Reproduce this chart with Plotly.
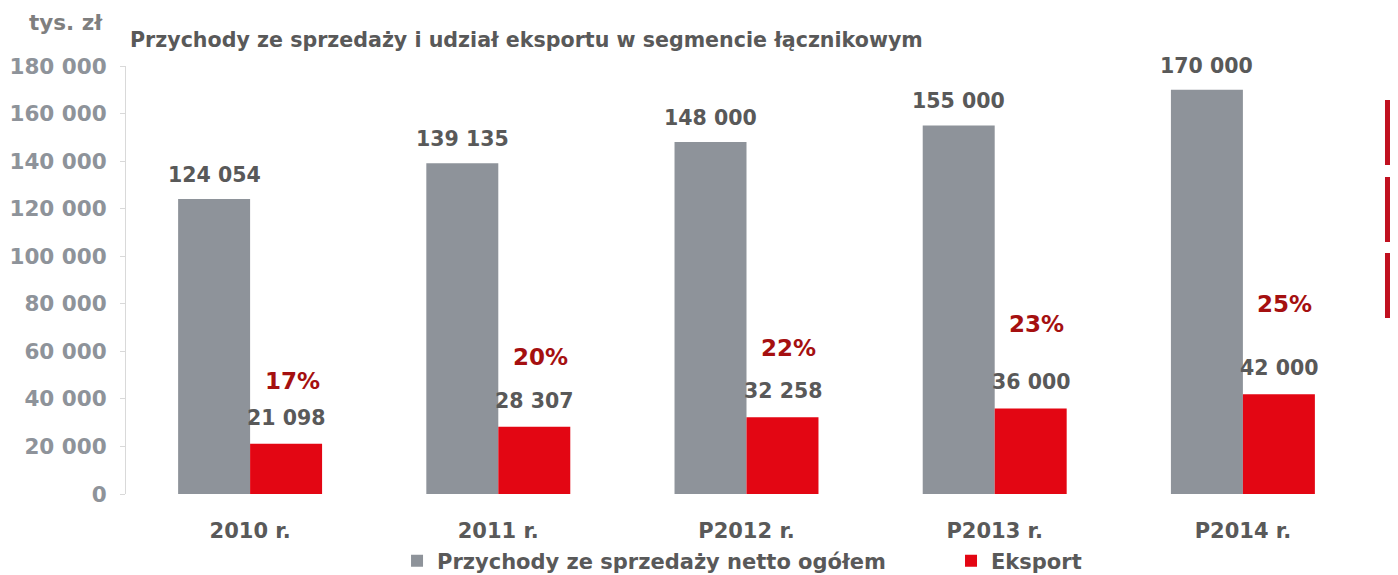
import plotly.graph_objects as go

categories = ["2010 r.", "2011 r.", "P2012 r.", "P2013 r.", "P2014 r."]
revenue = [124054, 139135, 148000, 155000, 170000]
export = [21098, 28307, 32258, 36000, 42000]
export_share = ["17%", "20%", "22%", "23%", "25%"]
# heights (in axis units) at which the share labels sit
share_label_y = [47500, 57600, 61400, 71500, 79900]

FONT = "DejaVu Sans"
GRAY = "#8E939A"
RED = "#E30613"
DARK = "#595959"
PCT = "#A51010"

def fmt(v):
    return f"{v:,}".replace(",", " ")

fig = go.Figure()
fig.add_trace(go.Bar(x=categories, y=revenue, name="Przychody ze sprzedaży netto ogółem",
                     marker_color=GRAY, marker_line_width=0, legend="legend2"))
fig.add_trace(go.Bar(x=categories, y=export, name="Eksport",
                     marker_color=RED, marker_line_width=0, legend="legend3"))

ann = []
for c, v in zip(categories, revenue):
    ann.append(dict(x=c, y=v, xshift=-36, yshift=10, text=fmt(v), showarrow=False,
                    yanchor="bottom", font=dict(family=FONT, size=20.5, color=DARK, weight="bold")))
for c, v in zip(categories, export):
    ann.append(dict(x=c, y=v, xshift=36, yshift=12, text=fmt(v), showarrow=False,
                    yanchor="bottom", font=dict(family=FONT, size=20.5, color=DARK, weight="bold")))
for c, s, yy in zip(categories, export_share, share_label_y):
    ann.append(dict(x=c, y=yy, xshift=42, text=s, showarrow=False,
                    yanchor="middle", font=dict(family=FONT, size=23, color=PCT, weight="bold")))
ann.append(dict(xref="paper", yref="paper", x=-0.0169, y=1.1028, text="tys. zł",
                showarrow=False, xanchor="right", yanchor="middle",
                font=dict(family=FONT, size=21.5, color="#7F7F7F", weight="bold")))
ann.append(dict(xref="paper", yref="paper", x=0.002, y=1.0607,
                text="Przychody ze sprzedaży i udział eksportu w segmencie łącznikowym",
                showarrow=False, xanchor="left", yanchor="middle",
                font=dict(family=FONT, size=20.6, color=DARK, weight="bold")))

shapes = []
for y0, y1 in [(0.9206, 0.7687), (0.7407, 0.5888), (0.5631, 0.4112)]:
    shapes.append(dict(type="rect", xref="paper", yref="paper", x0=1.0145, x1=1.03,
                       y0=y1, y1=y0, fillcolor="#C0101F", line_width=0))

legfont = dict(family=FONT, size=21, color=DARK, weight="bold")
fig.update_layout(
    width=1390, height=567,
    margin=dict(l=118, r=31, t=58, b=81, autoexpand=False),
    paper_bgcolor="white", plot_bgcolor="white",
    barmode="group", bargap=0.42, bargroupgap=0,
    separators=". ",
    font=dict(family=FONT, color=DARK),
    annotations=ann, shapes=shapes,
    legend2=dict(orientation="h", x=0.2184, y=-0.1565, xanchor="left", yanchor="middle",
                 font=legfont, bgcolor="rgba(0,0,0,0)"),
    legend3=dict(orientation="h", x=0.6648, y=-0.1565, xanchor="left", yanchor="middle",
                 font=legfont, bgcolor="rgba(0,0,0,0)"),
    xaxis=dict(showline=False, ticks="outside", ticklen=18, tickcolor="rgba(0,0,0,0)",
               showgrid=False, automargin=False,
               tickfont=dict(family=FONT, size=21, color=DARK, weight="bold")),
    yaxis=dict(range=[0, 180000], dtick=20000, tickformat=",d", showgrid=False,
               showline=True, linecolor="#D9D9D9", linewidth=1, ticks="outside",
               ticklen=5, tickcolor="#D9D9D9", zeroline=False, automargin=False,
               ticklabelstandoff=9,
               tickfont=dict(family=FONT, size=21.5, color=GRAY, weight="bold")),
)

fig.write_html("out.html")
